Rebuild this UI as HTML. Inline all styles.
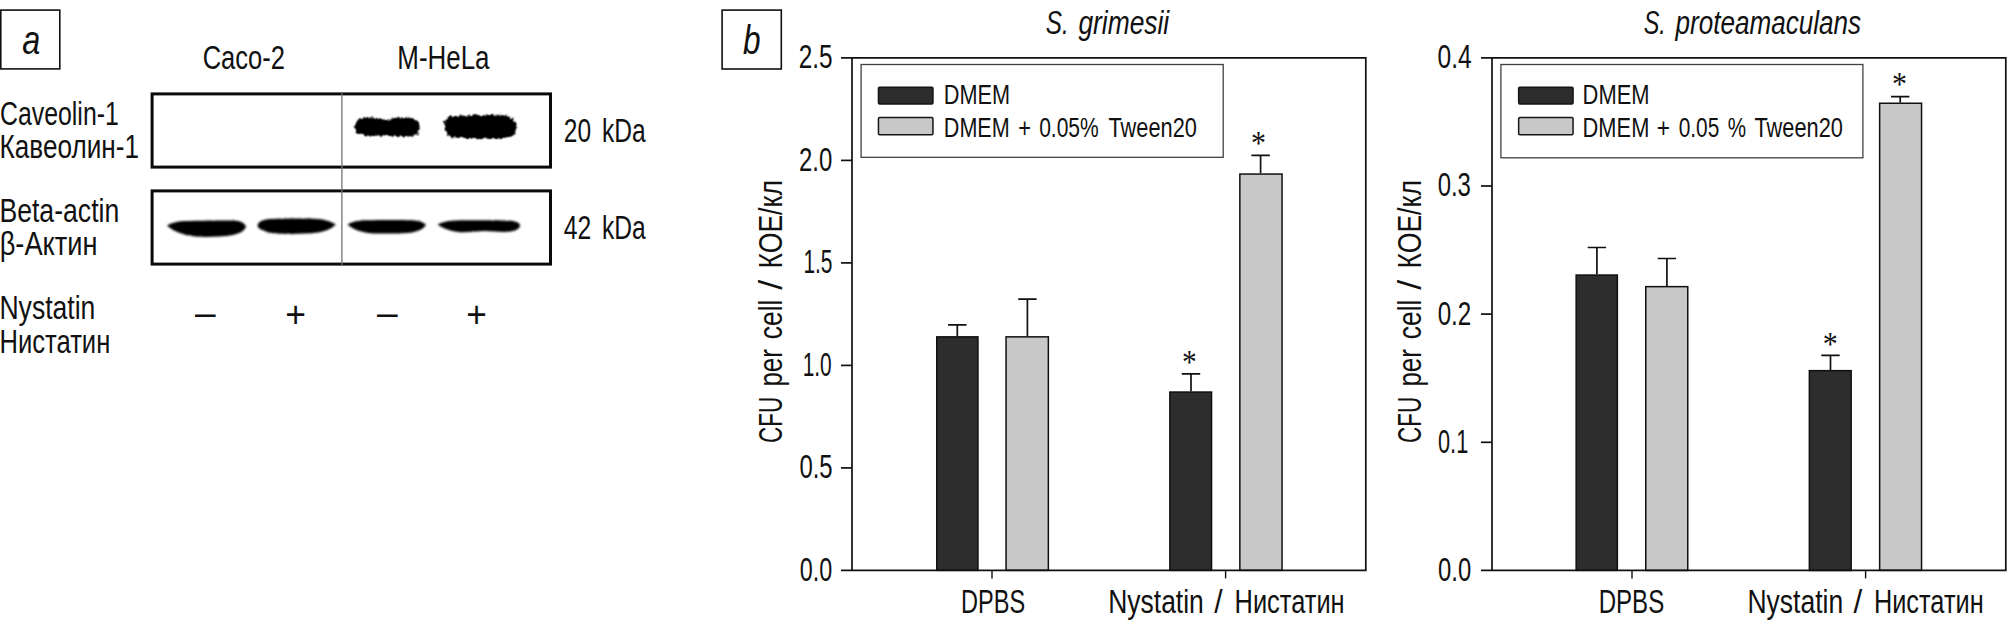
<!DOCTYPE html>
<html lang="ru"><head><meta charset="utf-8"><title>Figure</title>
<style>
html,body{margin:0;padding:0;background:#fff;}
body{width:2008px;height:625px;overflow:hidden;font-family:"Liberation Sans",sans-serif;}
svg{display:block}
</style></head><body>
<svg width="2008" height="625" viewBox="0 0 2008 625">
<defs>
<filter id="soft" x="-10%" y="-40%" width="120%" height="180%">
<feTurbulence type="fractalNoise" baseFrequency="0.6" numOctaves="1" seed="3" result="n"/>
<feDisplacementMap in="SourceGraphic" in2="n" scale="2.2" xChannelSelector="R" yChannelSelector="G"/>
<feGaussianBlur stdDeviation="0.9"/>
</filter>
<filter id="rough" x="-10%" y="-40%" width="120%" height="180%">
<feTurbulence type="fractalNoise" baseFrequency="0.35" numOctaves="2" seed="7" result="n"/>
<feDisplacementMap in="SourceGraphic" in2="n" scale="5" xChannelSelector="R" yChannelSelector="G" result="d"/>
<feConvolveMatrix in="d" order="3" kernelMatrix="1 2 1 2 4 2 1 2 1" divisor="16" edgeMode="none" preserveAlpha="false"/>
</filter>
</defs>
<rect width="2008" height="625" fill="#fff"/>
<!-- panel a -->
<rect x="0.8" y="10.1" width="59" height="58.8" fill="none" stroke="#111" stroke-width="1.6"/>
<rect x="152.1" y="93.9" width="398.4" height="73.2" fill="#fff" stroke="#0a0a0a" stroke-width="3"/>
<rect x="152.1" y="190.9" width="398.4" height="73.2" fill="#fff" stroke="#0a0a0a" stroke-width="3"/>
<path d="M341.9 92.5 V266" stroke="#727272" stroke-width="1.3"/>
<g fill="#000" filter="url(#rough)">
<path d="M354.5 127.5 C354.8 121.5 358.5 117.6 365 117.2 C372 117 379 117.8 384 119.8 C388 121 391 118.2 397 117.7 C405 117.2 413 117.6 417 120.5 C420.5 123.5 420.5 131.5 417.5 134.2 C413 137 404 136.8 396 136.3 C388 135.8 380 135.8 372 135.8 C365 135.8 358 135.2 355.5 131.8 Z"/>
<path d="M444.5 127 C444 121 446 117 451 116 C462 115.5 480 115.2 495 114.8 C503 114.6 510 116 513.5 119.5 C517 123 517.3 131 514 135 C510 138.2 500 138.6 490 138.4 C478 138.2 462 138.4 452 137.2 C446.5 136 445 132 444.5 127 Z"/>
</g>
<g fill="#000" filter="url(#soft)">
<path d="M167 225.6 C172 222.5 178 221.2 186 221 C200 220.6 222 220.4 234 220.6 C240 220.8 244.5 223 246 226.5 C245 230.5 240 233.5 233 235 C222 236.8 208 237.2 198 236.8 C189 236.3 181 234 175 231 C171 229 168.5 227.5 167 225.6 Z"/>
<path d="M257.5 225.5 C258 221.5 263 219.3 270 218.9 C285 218.3 305 218.3 318 218.9 C326 219.5 332 222 336 224.6 C332 228.5 326 231.3 318 232.6 C305 234.2 288 234.4 277 233.6 C268 232.8 258.5 230.5 257.5 225.5 Z"/>
<path d="M347.5 224.6 C352 221.5 358 220.4 366 220.2 C382 219.8 402 219.8 412 220.2 C419 220.6 424 222.5 426 224.8 C424 228.5 419 231.2 412 232.4 C400 233.8 382 233.8 370 233.2 C361 232.5 352 229 347.5 224.6 Z"/>
<path d="M437.5 224.6 C443 222 449 220.8 456 220.6 C472 220.2 495 220.4 508 220.6 C515 220.9 520 222.8 520 225.4 C520 228.6 515 231.2 508 231.8 C500 232.2 492 231 485 231 C477 231.2 468 232.6 460 232.2 C451 231.6 443 228.5 437.5 224.6 Z"/>
</g>
<!-- panel b -->
<rect x="722.1" y="10.1" width="59.2" height="58.9" fill="none" stroke="#111" stroke-width="1.6"/>
<path d="M957.3 336.1 V324.8 M948.1 324.8 H966.5" stroke="#101010" stroke-width="1.7" fill="none"/>
<rect x="936.75" y="336.85" width="41.2" height="233.5" fill="#2d2d2d" stroke="#101010" stroke-width="1.5"/>
<path d="M1027.4 336.1 V299.1 M1018.2 299.1 H1036.6" stroke="#101010" stroke-width="1.7" fill="none"/>
<rect x="1006.05" y="336.85" width="42.3" height="233.5" fill="#c8c8c8" stroke="#101010" stroke-width="1.5"/>
<path d="M1191.0 391.3 V373.9 M1181.8 373.9 H1200.2" stroke="#101010" stroke-width="1.7" fill="none"/>
<rect x="1169.85" y="392.05" width="41.7" height="178.3" fill="#2d2d2d" stroke="#101010" stroke-width="1.5"/>
<path d="M1260.6 173.3 V155.3 M1251.4 155.3 H1269.8" stroke="#101010" stroke-width="1.7" fill="none"/>
<rect x="1239.85" y="174.05" width="42.2" height="396.3" fill="#c8c8c8" stroke="#101010" stroke-width="1.5"/>
<path d="M852 570.4 V57.9 H1365.8 V570.4" stroke="#101010" stroke-width="1.7" fill="none"/>
<path d="M841 570.4 H1366.55" stroke="#101010" stroke-width="1.7" fill="none"/>
<path d="M841 57.9 H852" stroke="#101010" stroke-width="1.7"/>
<path d="M841 160.4 H852" stroke="#101010" stroke-width="1.7"/>
<path d="M841 262.9 H852" stroke="#101010" stroke-width="1.7"/>
<path d="M841 365.4 H852" stroke="#101010" stroke-width="1.7"/>
<path d="M841 467.9 H852" stroke="#101010" stroke-width="1.7"/>
<path d="M992.0 570.4 V578.4" stroke="#101010" stroke-width="1.4"/>
<path d="M1225.6 570.4 V578.4" stroke="#101010" stroke-width="1.4"/>
<path d="M1596.9 274.3 V247.5 M1587.7 247.5 H1606.1" stroke="#101010" stroke-width="1.7" fill="none"/>
<rect x="1576.15" y="275.05" width="41.2" height="295.3" fill="#2d2d2d" stroke="#101010" stroke-width="1.5"/>
<path d="M1666.9 285.9 V258.5 M1657.7 258.5 H1676.1" stroke="#101010" stroke-width="1.7" fill="none"/>
<rect x="1645.75" y="286.65" width="42.0" height="283.8" fill="#c8c8c8" stroke="#101010" stroke-width="1.5"/>
<path d="M1830.5 369.9 V355.3 M1821.3 355.3 H1839.7" stroke="#101010" stroke-width="1.7" fill="none"/>
<rect x="1809.35" y="370.65" width="41.8" height="199.8" fill="#2d2d2d" stroke="#101010" stroke-width="1.5"/>
<path d="M1900.2 102.5 V96.7 M1891.0 96.7 H1909.4" stroke="#101010" stroke-width="1.7" fill="none"/>
<rect x="1879.65" y="103.25" width="41.9" height="467.1" fill="#c8c8c8" stroke="#101010" stroke-width="1.5"/>
<path d="M1492 570.4 V57.9 H2005.8 V570.4" stroke="#101010" stroke-width="1.7" fill="none"/>
<path d="M1481 570.4 H2006.55" stroke="#101010" stroke-width="1.7" fill="none"/>
<path d="M1481 57.9 H1492" stroke="#101010" stroke-width="1.7"/>
<path d="M1481 186 H1492" stroke="#101010" stroke-width="1.7"/>
<path d="M1481 314.1 H1492" stroke="#101010" stroke-width="1.7"/>
<path d="M1481 442.3 H1492" stroke="#101010" stroke-width="1.7"/>
<path d="M1632.0 570.4 V578.4" stroke="#101010" stroke-width="1.4"/>
<path d="M1865.6 570.4 V578.4" stroke="#101010" stroke-width="1.4"/>
<rect x="861.1" y="64.5" width="362.1" height="92.8" fill="#fff" stroke="#404040" stroke-width="1.3"/>
<rect x="878.45" y="87.15" width="54.50" height="16.9" rx="1.2" fill="#2d2d2d" stroke="#151515" stroke-width="1.5"/>
<rect x="878.45" y="117.55" width="54.50" height="17.2" rx="1.2" fill="#c8c8c8" stroke="#151515" stroke-width="1.5"/>
<rect x="1500.9" y="64.5" width="362.0" height="93.3" fill="#fff" stroke="#404040" stroke-width="1.3"/>
<rect x="1518.65" y="87.15" width="54.40" height="16.9" rx="1.2" fill="#2d2d2d" stroke="#151515" stroke-width="1.5"/>
<rect x="1518.65" y="117.55" width="54.40" height="17.2" rx="1.2" fill="#c8c8c8" stroke="#151515" stroke-width="1.5"/>
<g>
<text transform="translate(22.18,54.00) scale(0.8111,1.0000)" font-family='"Liberation Sans", sans-serif' font-size="40" fill="#111" font-style="italic">a</text>
<text transform="translate(202.69,69.40) scale(0.7730,1.0000)" font-family='"Liberation Sans", sans-serif' font-size="33" fill="#111">Caco-2</text>
<text transform="translate(397.27,69.40) scale(0.7867,1.0000)" font-family='"Liberation Sans", sans-serif' font-size="33" fill="#111">M-HeLa</text>
<text transform="translate(0.02,124.60) scale(0.7532,1.0000)" font-family='"Liberation Sans", sans-serif' font-size="33" fill="#111">Caveolin-1</text>
<text transform="translate(-0.44,157.50) scale(0.7923,1.0000)" font-family='"Liberation Sans", sans-serif' font-size="33" fill="#111">Кавеолин-1</text>
<text transform="translate(563.77,142.00) scale(0.7434,1.0000)" font-family='"Liberation Sans", sans-serif' font-size="33" fill="#111">20</text>
<text transform="translate(601.93,142.00) scale(0.7453,1.0000)" font-family='"Liberation Sans", sans-serif' font-size="33" fill="#111">kDa</text>
<text transform="translate(-0.58,221.80) scale(0.8070,1.0000)" font-family='"Liberation Sans", sans-serif' font-size="33" fill="#111">Beta-actin</text>
<text transform="translate(-0.30,255.40) scale(0.8254,1.0000)" font-family='"Liberation Sans", sans-serif' font-size="33" fill="#111">β-Актин</text>
<text transform="translate(563.84,239.00) scale(0.7491,1.0000)" font-family='"Liberation Sans", sans-serif' font-size="33" fill="#111">42</text>
<text transform="translate(601.93,239.00) scale(0.7453,1.0000)" font-family='"Liberation Sans", sans-serif' font-size="33" fill="#111">kDa</text>
<text transform="translate(-0.58,319.00) scale(0.8054,1.0000)" font-family='"Liberation Sans", sans-serif' font-size="33" fill="#111">Nystatin</text>
<text transform="translate(-0.50,352.80) scale(0.7756,1.0000)" font-family='"Liberation Sans", sans-serif' font-size="33" fill="#111">Нистатин</text>
<text transform="translate(195.00,326.40) scale(1.3248,1.4167)" font-family='"Liberation Sans", sans-serif' font-size="28" fill="#111">–</text>
<text transform="translate(285.14,327.39) scale(1.2673,1.2961)" font-family='"Liberation Sans", sans-serif' font-size="28" fill="#111">+</text>
<text transform="translate(377.00,326.40) scale(1.3248,1.4167)" font-family='"Liberation Sans", sans-serif' font-size="28" fill="#111">–</text>
<text transform="translate(466.25,327.39) scale(1.2599,1.2961)" font-family='"Liberation Sans", sans-serif' font-size="28" fill="#111">+</text>
<text transform="translate(743.07,54.00) scale(0.7883,1.0000)" font-family='"Liberation Sans", sans-serif' font-size="40" fill="#111" font-style="italic">b</text>
<text transform="translate(1045.69,33.80) scale(0.7367,1.0000)" font-family='"Liberation Sans", sans-serif' font-size="33" fill="#111" font-style="italic">S.</text>
<text transform="translate(1078.39,33.80) scale(0.7994,1.0000)" font-family='"Liberation Sans", sans-serif' font-size="33" fill="#111" font-style="italic">grimesii</text>
<text transform="translate(1643.72,33.80) scale(0.7094,1.0000)" font-family='"Liberation Sans", sans-serif' font-size="33" fill="#111" font-style="italic">S.</text>
<text transform="translate(1675.56,33.80) scale(0.7906,1.0000)" font-family='"Liberation Sans", sans-serif' font-size="33" fill="#111" font-style="italic">proteamaculans</text>
<text transform="translate(798.77,68.30) scale(0.7393,1.0000)" font-family='"Liberation Sans", sans-serif' font-size="33" fill="#111">2.5</text>
<text transform="translate(799.00,170.80) scale(0.7254,1.0000)" font-family='"Liberation Sans", sans-serif' font-size="33" fill="#111">2.0</text>
<text transform="translate(803.40,273.30) scale(0.6352,1.0000)" font-family='"Liberation Sans", sans-serif' font-size="33" fill="#111">1.5</text>
<text transform="translate(802.70,375.80) scale(0.6333,1.0000)" font-family='"Liberation Sans", sans-serif' font-size="33" fill="#111">1.0</text>
<text transform="translate(799.44,478.30) scale(0.7244,1.0000)" font-family='"Liberation Sans", sans-serif' font-size="33" fill="#111">0.5</text>
<text transform="translate(799.66,580.80) scale(0.7083,1.0000)" font-family='"Liberation Sans", sans-serif' font-size="33" fill="#111">0.0</text>
<text transform="translate(1437.61,68.30) scale(0.7441,1.0000)" font-family='"Liberation Sans", sans-serif' font-size="33" fill="#111">0.4</text>
<text transform="translate(1437.64,196.40) scale(0.7254,1.0000)" font-family='"Liberation Sans", sans-serif' font-size="33" fill="#111">0.3</text>
<text transform="translate(1437.63,324.50) scale(0.7326,1.0000)" font-family='"Liberation Sans", sans-serif' font-size="33" fill="#111">0.2</text>
<text transform="translate(1438.02,452.90) scale(0.6596,1.0000)" font-family='"Liberation Sans", sans-serif' font-size="33" fill="#111">0.1</text>
<text transform="translate(1438.04,580.80) scale(0.7222,1.0000)" font-family='"Liberation Sans", sans-serif' font-size="33" fill="#111">0.0</text>
<text transform="translate(943.81,103.60) scale(0.7744,1.0000)" font-family='"Liberation Sans", sans-serif' font-size="28" fill="#111">DMEM</text>
<text transform="translate(943.82,137.40) scale(0.7707,1.0000)" font-family='"Liberation Sans", sans-serif' font-size="28" fill="#111">DMEM</text>
<text transform="translate(1018.32,137.40) scale(0.7810,1.0000)" font-family='"Liberation Sans", sans-serif' font-size="28" fill="#111">+</text>
<text transform="translate(1039.14,137.40) scale(0.7513,1.0000)" font-family='"Liberation Sans", sans-serif' font-size="28" fill="#111">0.05%</text>
<text transform="translate(1108.51,137.40) scale(0.7781,1.0000)" font-family='"Liberation Sans", sans-serif' font-size="28" fill="#111">Tween20</text>
<text transform="translate(1582.59,103.60) scale(0.7831,1.0000)" font-family='"Liberation Sans", sans-serif' font-size="28" fill="#111">DMEM</text>
<text transform="translate(1582.59,137.40) scale(0.7806,1.0000)" font-family='"Liberation Sans", sans-serif' font-size="28" fill="#111">DMEM</text>
<text transform="translate(1656.87,137.40) scale(0.8105,1.0000)" font-family='"Liberation Sans", sans-serif' font-size="28" fill="#111">+</text>
<text transform="translate(1678.64,137.40) scale(0.7455,1.0000)" font-family='"Liberation Sans", sans-serif' font-size="28" fill="#111">0.05</text>
<text transform="translate(1727.83,137.40) scale(0.7373,1.0000)" font-family='"Liberation Sans", sans-serif' font-size="28" fill="#111">%</text>
<text transform="translate(1754.51,137.40) scale(0.7781,1.0000)" font-family='"Liberation Sans", sans-serif' font-size="28" fill="#111">Tween20</text>
<text transform="translate(961.07,612.80) scale(0.7134,1.0000)" font-family='"Liberation Sans", sans-serif' font-size="33" fill="#111">DPBS</text>
<text transform="translate(1108.23,612.80) scale(0.8019,1.0000)" font-family='"Liberation Sans", sans-serif' font-size="33" fill="#111">Nystatin</text>
<text transform="translate(1214.27,612.80) scale(0.9075,1.0000)" font-family='"Liberation Sans", sans-serif' font-size="33" fill="#111">/</text>
<text transform="translate(1234.51,612.80) scale(0.7712,1.0000)" font-family='"Liberation Sans", sans-serif' font-size="33" fill="#111">Нистатин</text>
<text transform="translate(1598.63,612.80) scale(0.7298,1.0000)" font-family='"Liberation Sans", sans-serif' font-size="33" fill="#111">DPBS</text>
<text transform="translate(1747.43,612.80) scale(0.8036,1.0000)" font-family='"Liberation Sans", sans-serif' font-size="33" fill="#111">Nystatin</text>
<text transform="translate(1853.46,612.80) scale(0.9528,1.0000)" font-family='"Liberation Sans", sans-serif' font-size="33" fill="#111">/</text>
<text transform="translate(1873.92,612.80) scale(0.7683,1.0000)" font-family='"Liberation Sans", sans-serif' font-size="33" fill="#111">Нистатин</text>
<text transform="translate(1250.90,153.75) scale(0.9983,1.1182)" font-family='"Liberation Serif", serif' font-size="30" fill="#111">*</text>
<text transform="translate(1181.93,373.40) scale(0.9811,1.1000)" font-family='"Liberation Serif", serif' font-size="30" fill="#111">*</text>
<text transform="translate(1891.90,95.35) scale(0.9983,1.1182)" font-family='"Liberation Serif", serif' font-size="30" fill="#111">*</text>
<text transform="translate(1822.80,354.65) scale(0.9983,1.1182)" font-family='"Liberation Serif", serif' font-size="30" fill="#111">*</text>
<text transform="translate(782.00,442.95) rotate(-90) scale(0.6794,1)" font-family='"Liberation Sans", sans-serif' font-size="33" fill="#111">CFU</text>
<text transform="translate(782.00,386.60) rotate(-90) scale(0.7842,1)" font-family='"Liberation Sans", sans-serif' font-size="33" fill="#111">per</text>
<text transform="translate(782.00,339.17) rotate(-90) scale(0.7995,1)" font-family='"Liberation Sans", sans-serif' font-size="33" fill="#111">cell</text>
<text transform="translate(782.00,289.66) rotate(-90) scale(1.0890,1)" font-family='"Liberation Sans", sans-serif' font-size="33" fill="#111">/</text>
<text transform="translate(782.00,268.48) rotate(-90) scale(0.8057,1)" font-family='"Liberation Sans", sans-serif' font-size="33" fill="#111">КОЕ/кл</text>
<text transform="translate(1421.20,442.95) rotate(-90) scale(0.6794,1)" font-family='"Liberation Sans", sans-serif' font-size="33" fill="#111">CFU</text>
<text transform="translate(1421.20,386.60) rotate(-90) scale(0.7842,1)" font-family='"Liberation Sans", sans-serif' font-size="33" fill="#111">per</text>
<text transform="translate(1421.20,339.17) rotate(-90) scale(0.7995,1)" font-family='"Liberation Sans", sans-serif' font-size="33" fill="#111">cell</text>
<text transform="translate(1421.20,289.66) rotate(-90) scale(1.0890,1)" font-family='"Liberation Sans", sans-serif' font-size="33" fill="#111">/</text>
<text transform="translate(1421.20,268.48) rotate(-90) scale(0.8057,1)" font-family='"Liberation Sans", sans-serif' font-size="33" fill="#111">КОЕ/кл</text>
</g>
</svg>
</body></html>
